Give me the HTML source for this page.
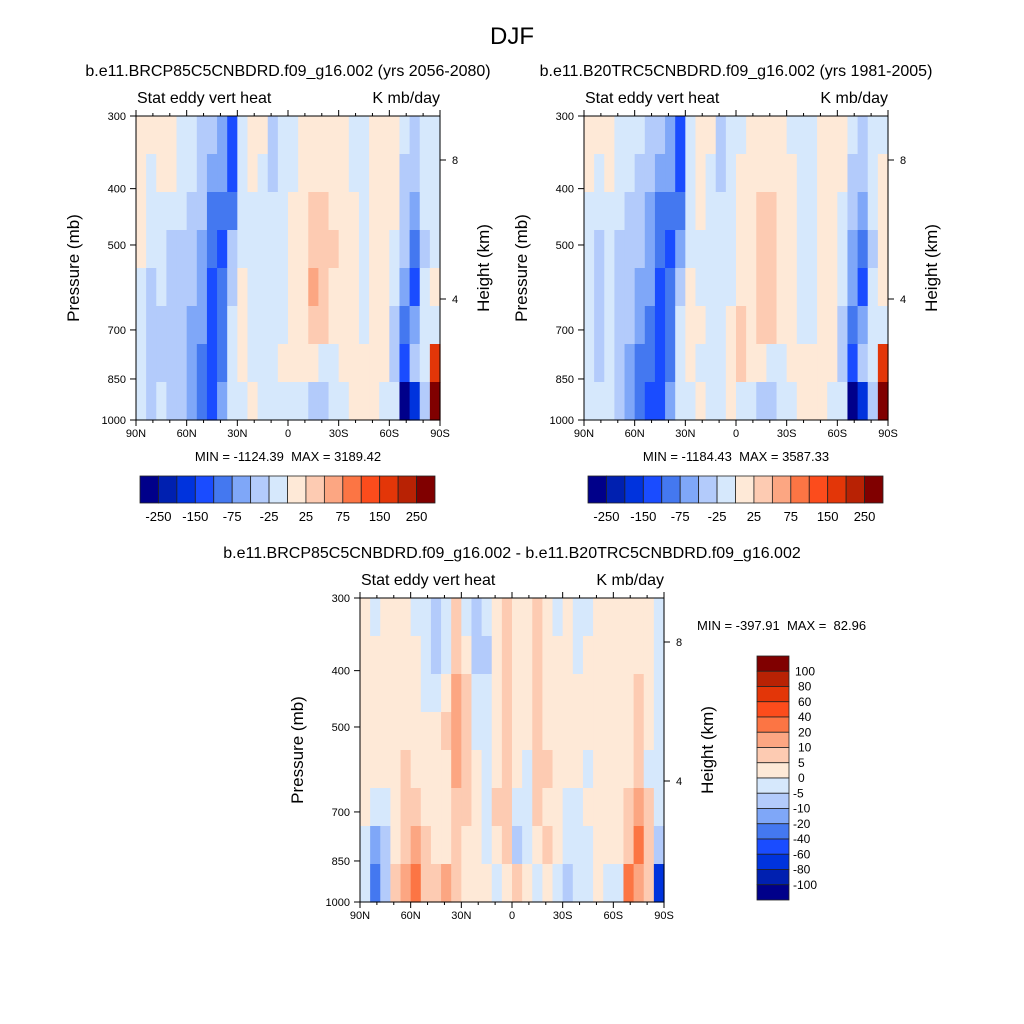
<!DOCTYPE html>
<html><head><meta charset="utf-8">
<style>
html,body{margin:0;padding:0;background:#fff;}
svg{display:block;font-family:"Liberation Sans",Arial,sans-serif;}
text{white-space:pre;}
</style></head>
<body>
<svg id="chart" width="1024" height="1024" viewBox="0 0 1024 1024" xmlns="http://www.w3.org/2000/svg">
<rect width="1024" height="1024" fill="#fff"/>
<text x="512" y="44" font-size="24" text-anchor="middle">DJF</text>
</svg>
<script>
// ---- data ----
const latLabels = ["90N","60N","30N","0","30S","60S","90S"];
const presLabels = ["300","400","500","700","850","1000"];
const heightLabels = ["8","4"];
const levelsTop = [-250,-200,-150,-100,-75,-50,-25,0,25,50,75,100,150,200,250];
const levelsDiff = [-100,-80,-60,-40,-20,-10,-5,0,5,10,20,40,60,80,100];
const barLabelsTop = ["-250","-150","-75","-25","25","75","150","250"];
const palette = ["#00008a","#0020b0","#0033dd","#1a4cff","#4478f0","#7fa7f8","#b3cbfb","#d6e8fc","#fee9d7","#fdcbb2","#fca682","#fc7544","#fc4c1c","#e33608","#b82204","#800000"];

const field1 = [
[10,10,10,10,-10,-10,-40,-40,-60,-120,-10,10,10,-40,-10,-10,10,10,10,10,10,-10,-10,10,10,10,-10,-40,-10,-10],
[10,-10,10,10,-10,-10,-40,-60,-60,-120,-10,10,-10,-40,-10,-10,10,10,10,10,10,-10,-10,10,10,10,-40,-40,-10,-10],
[10,-10,-10,-10,-10,-40,-40,-90,-90,-90,-10,-10,-10,-10,-10,10,10,40,40,10,10,10,-10,10,10,10,-40,-60,-10,-10],
[10,-10,-10,-40,-40,-40,-60,-90,-120,-40,-10,-10,-10,-10,-10,10,10,40,40,40,10,10,-10,10,10,-10,-40,-90,-40,-10],
[-10,-40,-10,-40,-40,-40,-60,-120,-90,-40,10,-10,-10,-10,-10,10,10,60,40,10,10,10,-10,10,10,-10,-60,-120,-10,10],
[-10,-40,-40,-40,-40,-60,-60,-120,-90,-10,10,-10,-10,-10,-10,10,10,40,40,10,10,10,-10,10,10,-40,-90,-60,-10,-10],
[-10,-40,-40,-40,-40,-60,-90,-120,-90,-10,10,-10,-10,-10,10,10,10,10,-10,-10,10,10,10,10,10,-40,-120,-40,-10,170],
[-10,-40,-10,-40,-40,-60,-90,-120,-60,-10,-10,10,-10,-10,-10,-10,-10,-40,-40,-10,-10,10,10,10,-10,-10,-300,-170,-40,300]
];
const field2 = [
[10,10,10,-10,-10,-10,-40,-40,-60,-120,-10,10,10,-40,-10,-10,10,10,10,10,-10,-10,-10,10,10,10,-10,-40,-10,-10],
[10,-10,10,-10,-10,-40,-40,-60,-60,-120,-10,10,-10,-40,-10,10,10,10,10,10,10,-10,-10,10,10,10,-40,-40,-10,10],
[-10,-10,-10,-10,-40,-40,-60,-90,-90,-90,-10,10,-10,-10,-10,10,10,40,40,10,10,-10,-10,10,10,-10,-40,-60,-10,10],
[-10,-40,-10,-40,-40,-40,-60,-90,-120,-60,-10,-10,-10,-10,-10,10,10,40,40,10,10,-10,-10,10,10,-10,-60,-90,-40,10],
[-10,-40,-10,-40,-40,-60,-60,-120,-90,-40,10,-10,-10,-10,-10,10,10,40,40,10,10,-10,-10,10,10,-10,-60,-120,-10,10],
[-10,-40,-10,-40,-40,-60,-90,-120,-90,-10,10,10,-10,-10,10,40,10,40,40,10,10,-10,-10,10,10,-40,-90,-60,-10,-10],
[-10,-40,-10,-40,-60,-90,-90,-120,-90,-10,10,-10,-10,-10,10,40,10,10,-10,-10,10,10,10,10,10,-40,-120,-40,-10,170],
[-10,-10,-10,-40,-60,-90,-120,-120,-60,-10,-10,10,-10,-10,10,-10,-10,-40,-40,-10,-10,10,10,10,-10,-10,-300,-170,-40,300]
];
const field3 = [
[3,-3,3,3,3,-3,-3,-7,-3,7,-3,-7,-3,3,7,3,3,7,3,-3,3,-3,-3,3,3,3,3,3,3,-3],
[3,3,3,3,3,3,-3,-7,-3,7,3,-7,-7,3,7,3,3,7,3,3,3,-3,3,3,3,3,3,3,3,-3],
[3,3,3,3,3,3,-3,-3,3,15,7,-3,-3,3,7,3,3,7,3,3,3,3,3,3,3,3,3,7,3,-3],
[3,3,3,3,3,3,3,3,7,15,7,-3,-3,3,7,3,3,7,3,3,3,3,3,3,3,3,3,7,3,-3],
[3,3,3,3,7,3,3,3,3,15,7,3,-3,3,7,3,-3,7,7,3,3,3,-3,3,3,3,3,7,-3,-3],
[3,-3,-3,3,7,7,3,3,3,7,7,3,-3,7,7,-3,-3,7,3,3,-3,-3,3,3,3,3,7,15,7,-3],
[-3,-15,-7,3,7,15,7,3,3,7,3,3,-3,3,7,-7,-3,3,7,3,-3,-3,-3,3,3,3,7,30,7,-7],
[-3,-30,-7,7,15,30,7,7,15,7,3,3,3,-3,3,7,3,-3,3,-3,-7,-3,-3,3,-3,-3,30,15,7,-70]
];

// ---- rendering ----
const NS = "http://www.w3.org/2000/svg";
const svg = document.getElementById("chart");
function mk(tag, attrs, parent){
  const e = document.createElementNS(NS, tag);
  for (const k in attrs) e.setAttribute(k, attrs[k]);
  (parent||svg).appendChild(e);
  return e;
}
function colorFor(v, levels){
  let i = 0;
  while (i < levels.length && v >= levels[i]) i++;
  return palette[i];
}
function pFrac(p){ return (Math.log(p) - Math.log(300)) / (Math.log(1000) - Math.log(300)); }
const presVals = [300,400,500,700,850,1000];
const heightVals = [8,4];
function hFrac(h){ return (44 + (8 - h) * 34.75) / 304; }

function panel(name, x0, y0, field, levels, title, minmax, minmaxPos){
  const W = 304, H = 304;
  const g = mk("g", {});
  
  
  const rows = field.length, cols = field[0].length;
  const xs = c => x0 + c * W / cols;
  const ys = r => y0 + r * H / rows;
  for (let r = 0; r < rows; r++) for (let c = 0; c < cols; c++){
    const cell = mk("rect", {x: xs(c), y: ys(r), width: W/cols + 0.6, height: H/rows + 0.6, fill: colorFor(field[r][c], levels)}, g);
    
    
  }
  const frame = mk("rect", {x: x0, y: y0, width: W, height: H, fill: "none", stroke: "#000", "stroke-width": 1}, g);
  
  
  for (let d = 0; d <= 180; d += 10){
    const x = x0 + d / 180 * W;
    const L = d % 30 === 0 ? 6 : 3;
    mk("line", {x1: x, y1: y0, x2: x, y2: y0 - L, stroke: "#000"}, g);
    mk("line", {x1: x, y1: y0 + H, x2: x, y2: y0 + H + L, stroke: "#000"}, g);
  }
  latLabels.forEach((lab, i) => {
    const t = mk("text", {x: x0 + i * W / 6, y: y0 + H + 17, "font-size": 11, "text-anchor": "middle"}, g);
    t.textContent = lab;
    
    
  });
  presLabels.forEach((lab, i) => {
    const y = y0 + pFrac(presVals[i]) * H;
    mk("line", {x1: x0, y1: y, x2: x0 - 6, y2: y, stroke: "#000"}, g);
    const t = mk("text", {x: x0 - 10, y: y + 4, "font-size": 11, "text-anchor": "end"}, g);
    t.textContent = lab;
    
    
  });
  heightLabels.forEach((lab, i) => {
    const y = y0 + hFrac(heightVals[i]) * H;
    mk("line", {x1: x0 + W, y1: y, x2: x0 + W + 6, y2: y, stroke: "#000"}, g);
    const t = mk("text", {x: x0 + W + 12, y: y + 4, "font-size": 11}, g);
    t.textContent = lab;
    
    
  });
  const tt = mk("text", {x: x0 + W/2, y: y0 - 40, "font-size": 16, "text-anchor": "middle"}, g);
  tt.textContent = title;
  
  
  const ls = mk("text", {x: x0 + 1, y: y0 - 13, "font-size": 16}, g);
  ls.textContent = "Stat eddy vert heat";
  
  
  const rs = mk("text", {x: x0 + W, y: y0 - 13, "font-size": 16, "text-anchor": "end"}, g);
  rs.textContent = "K mb/day";
  
  
  const ya = mk("text", {x: 0, y: 0, "font-size": 17, "text-anchor": "middle", transform: `translate(${x0-57},${y0+H/2}) rotate(-90)`}, g);
  ya.textContent = "Pressure (mb)";
  
  
  const hy = mk("text", {x: 0, y: 0, "font-size": 17, "text-anchor": "middle", transform: `translate(${x0+W+49},${y0+H/2}) rotate(-90)`}, g);
  hy.textContent = "Height (km)";
  
  
  const mm = mk("text", {x: minmaxPos[0], y: minmaxPos[1], "font-size": 13, "text-anchor": minmaxPos[2]}, g);
  mm.textContent = minmax;
  
  
}

function hbar(name, x0, y0){
  const W = 295, H = 27, n = palette.length, bw = W / n;
  const g = mk("g", {});
  
  
  palette.forEach((c, i) => {
    const b = mk("rect", {x: x0 + i*bw, y: y0, width: bw, height: H, fill: c, stroke: "#222", "stroke-width": 0.8}, g);
    
    
  });
  barLabelsTop.forEach((lab, i) => {
    const t = mk("text", {x: x0 + (1 + 2*i) * bw, y: y0 + H + 18, "font-size": 13, "text-anchor": "middle"}, g);
    t.textContent = lab;
    
    
  });
}
function vbar(name, x0, y0){
  const W = 32, H = 244, n = palette.length, bh = H / n;
  const g = mk("g", {});
  
  
  palette.slice().reverse().forEach((c, i) => {
    const b = mk("rect", {x: x0, y: y0 + i*bh, width: W, height: bh, fill: c, stroke: "#222", "stroke-width": 0.8}, g);
    
    
  });
  levelsDiff.slice().reverse().forEach((v, i) => {
    const t = mk("text", {x: x0 + W + (v < 0 ? 4 : (String(v).length > 2 ? 6 : 9)), y: y0 + (i+1)*bh + 4, "font-size": 12}, g);
    t.textContent = String(v);
    
    
  });
}

panel("panel-future", 136, 116, field1, levelsTop, "b.e11.BRCP85C5CNBDRD.f09_g16.002 (yrs 2056-2080)", "MIN = -1124.39  MAX = 3189.42", [288, 461, "middle"]);
panel("panel-historical", 584, 116, field2, levelsTop, "b.e11.B20TRC5CNBDRD.f09_g16.002 (yrs 1981-2005)", "MIN = -1184.43  MAX = 3587.33", [736, 461, "middle"]);
panel("panel-difference", 360, 598, field3, levelsDiff, "b.e11.BRCP85C5CNBDRD.f09_g16.002 - b.e11.B20TRC5CNBDRD.f09_g16.002", "MIN = -397.91  MAX =  82.96", [697, 630, "start"]);
hbar("colorbar-future", 140, 476);
hbar("colorbar-historical", 588, 476);
vbar("colorbar-difference", 757, 656);
</script>
</body></html>
